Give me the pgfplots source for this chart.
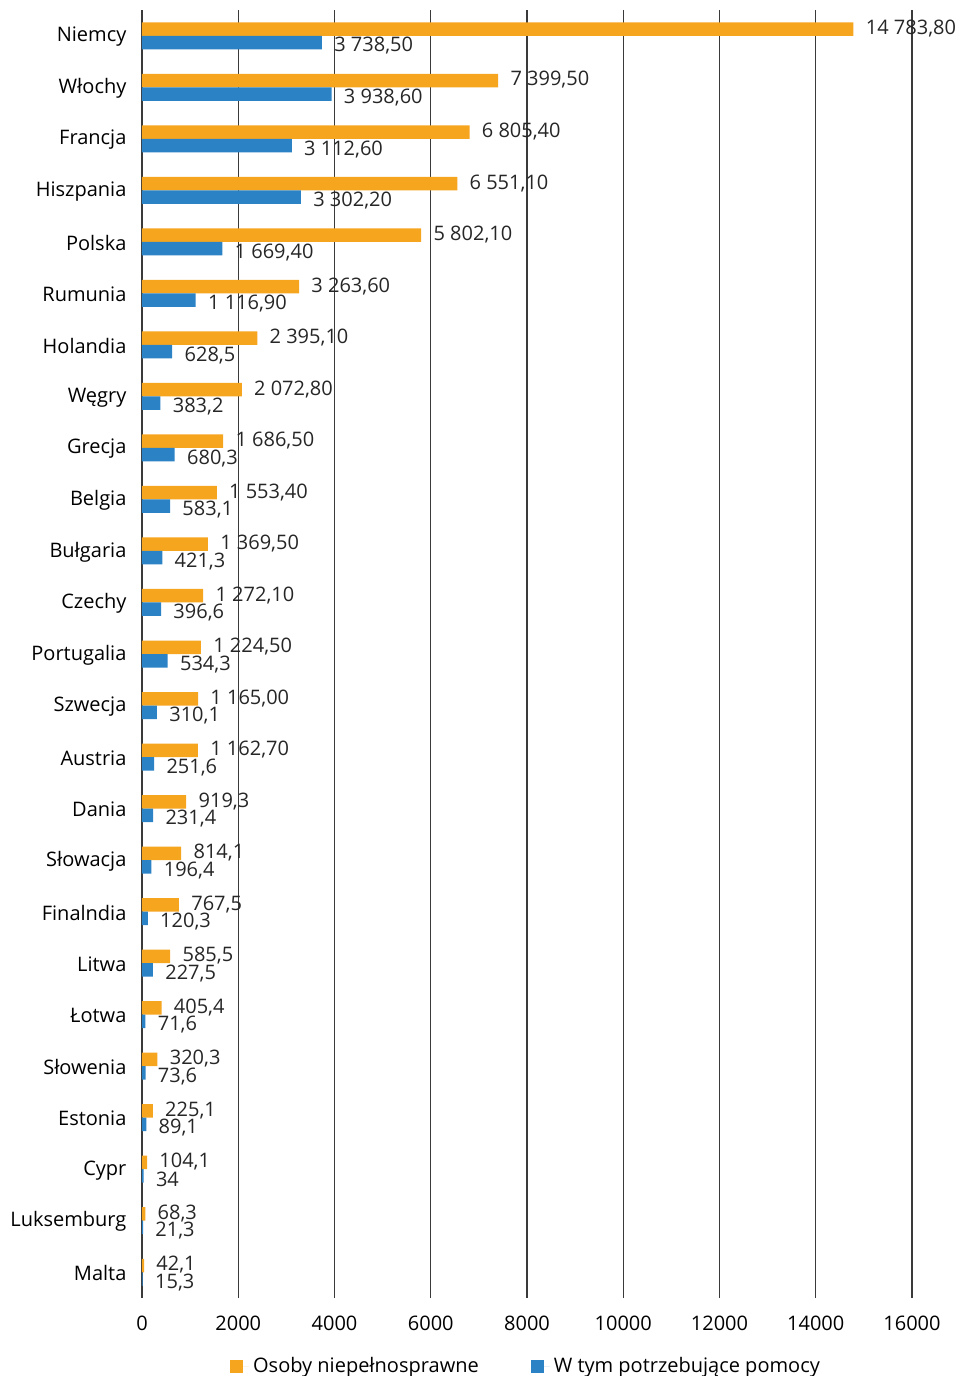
\documentclass[border=0pt]{standalone}
\usepackage{pgfplots}
\pgfplotsset{compat=1.18}
\usepackage{fontspec}
\setmainfont{Open Sans}
\definecolor{orng}{HTML}{F6A51F}
\definecolor{blu}{HTML}{2B83C6}
\definecolor{gridc}{HTML}{3A3A3A}
\newcommand{\fs}{\fontsize{10pt}{12pt}\selectfont}
\begin{document}
\fs
\begin{tikzpicture}
\useasboundingbox (-71pt,-39pt) rectangle (411pt,649pt);
\begin{axis}[
  at={(0,0)}, anchor=south west,
  scale only axis, width=385pt, height=644pt,
  xbar=0pt, bar width=6.75pt,
  xmin=0, xmax=16000, ymin=-0.5, ymax=24.5,
  y dir=reverse,
  axis line style={draw=none},
  xmajorgrids, grid style={gridc, line width=0.6pt},
  xtick={0,2000,...,16000},
  scaled x ticks=false,
  xtick style={draw=none}, ytick style={draw=none},
  /pgf/number format/1000 sep={},
  /pgf/number format/assume math mode=true,
  xticklabel style={font=\fs, yshift=-5.5pt},
  ytick={0,...,24},
  yticklabels={Niemcy, Włochy, Francja, Hiszpania, Polska, Rumunia, Holandia, Węgry, Grecja, Belgia, Bułgaria, Czechy, Portugalia, Szwecja, Austria, Dania, Słowacja, Finalndia, Litwa, Łotwa, Słowenia, Estonia, Cypr, Luksemburg, Malta},
  yticklabel style={font=\fs, xshift=0pt, yshift=-0.5pt},
  point meta=explicit symbolic,
  nodes near coords,
  every node near coord/.append style={font=\fs, anchor=west, inner sep=0pt, xshift=6pt, text=black!85},
  legend columns=2,
  legend style={at={(0.5,-0.053)}, anchor=center, draw=none, fill=none,
    font=\fs,
    /tikz/every even column/.append style={column sep=24pt}},
  legend image code/.code={\fill[#1] (0pt,-3.25pt) rectangle (6.5pt,3.25pt); \path (0pt,0pt) -- (9.5pt,0pt);},
]
\addplot[fill=orng, draw=none, bar shift=3.375pt, every node near coord/.append style={yshift=0.25pt}] coordinates {
(14783.80,0) [14 783,80]
(7399.50,1) [7 399,50]
(6805.40,2) [6 805,40]
(6551.10,3) [6 551,10]
(5802.10,4) [5 802,10]
(3263.60,5) [3 263,60]
(2395.10,6) [2 395,10]
(2072.80,7) [2 072,80]
(1686.50,8) [1 686,50]
(1553.40,9) [1 553,40]
(1369.50,10) [1 369,50]
(1272.10,11) [1 272,10]
(1224.50,12) [1 224,50]
(1165.00,13) [1 165,00]
(1162.70,14) [1 162,70]
(919.3,15) [919,3]
(814.1,16) [814,1]
(767.5,17) [767,5]
(585.5,18) [585,5]
(405.4,19) [405,4]
(320.3,20) [320,3]
(225.1,21) [225,1]
(104.1,22) [104,1]
(68.3,23) [68,3]
(42.1,24) [42,1]
};
\addlegendentry{Osoby niepełnosprawne}
\addplot[fill=blu, draw=none, bar shift=-3.375pt, every node near coord/.append style={yshift=-1.75pt}] coordinates {
(3738.50,0) [3 738,50]
(3938.60,1) [3 938,60]
(3112.60,2) [3 112,60]
(3302.20,3) [3 302,20]
(1669.40,4) [1 669,40]
(1116.90,5) [1 116,90]
(628.5,6) [628,5]
(383.2,7) [383,2]
(680.3,8) [680,3]
(583.1,9) [583,1]
(421.3,10) [421,3]
(396.6,11) [396,6]
(534.3,12) [534,3]
(310.1,13) [310,1]
(251.6,14) [251,6]
(231.4,15) [231,4]
(196.4,16) [196,4]
(120.3,17) [120,3]
(227.5,18) [227,5]
(71.6,19) [71,6]
(73.6,20) [73,6]
(89.1,21) [89,1]
(34,22) [34]
(21.3,23) [21,3]
(15.3,24) [15,3]
};
\addlegendentry{W tym potrzebujące pomocy}
\end{axis}
\end{tikzpicture}
\end{document}
